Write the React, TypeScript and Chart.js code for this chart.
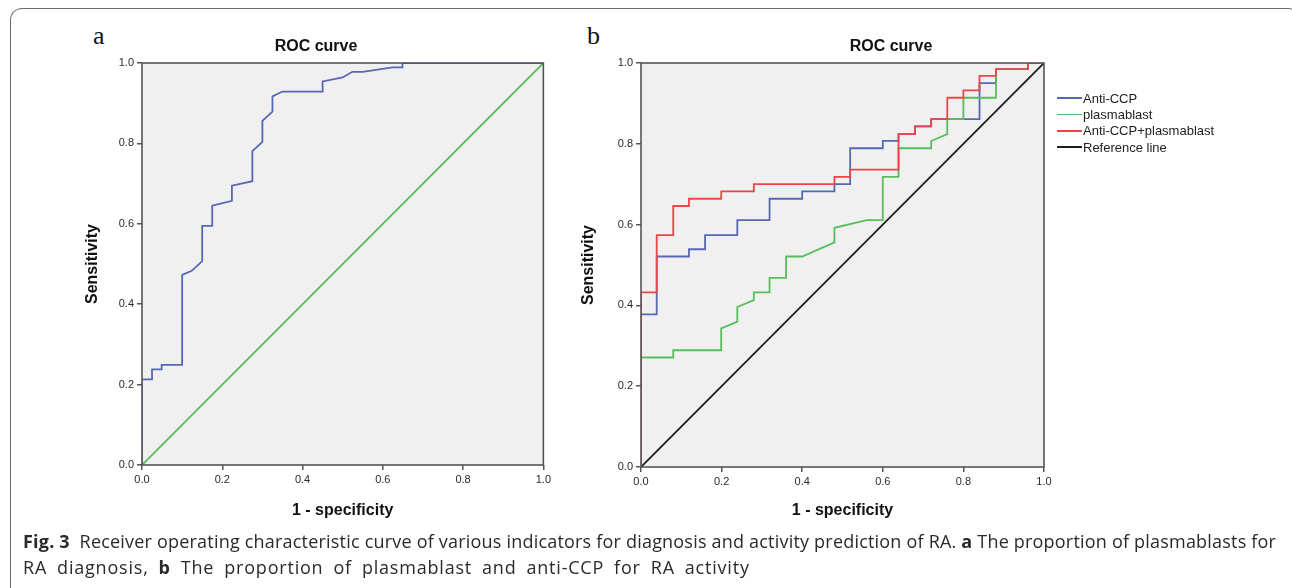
import React, { useEffect, useRef } from "react";
import { Chart, registerables } from "chart.js";
Chart.register(...registerables);

// ---------- data ----------
const TICK_STEP = 0.2;

// panel a: plasmablast ROC (1 - specificity, sensitivity)
const aFpr = [0, 0, 0.025, 0.025, 0.049, 0.049, 0.1, 0.1, 0.124, 0.15, 0.15, 0.175, 0.175, 0.224, 0.224, 0.275, 0.275, 0.3, 0.3, 0.325, 0.325, 0.35, 0.45, 0.45, 0.5, 0.524, 0.55, 0.624, 0.649, 0.649, 1];
const aTpr = [0, 0.213, 0.213, 0.238, 0.238, 0.249, 0.249, 0.473, 0.483, 0.507, 0.595, 0.595, 0.645, 0.657, 0.695, 0.706, 0.781, 0.804, 0.856, 0.879, 0.917, 0.929, 0.929, 0.954, 0.964, 0.978, 0.978, 0.989, 0.989, 1, 1];

// diagonal reference
const diagX = [0, 1];
const diagY = [0, 1];

// panel b: Anti-CCP
const ccpFpr = [0, 0, 0.039, 0.039, 0.119, 0.119, 0.159, 0.159, 0.239, 0.239, 0.319, 0.319, 0.4, 0.4, 0.48, 0.48, 0.519, 0.519, 0.6, 0.6, 0.639, 0.639, 0.68, 0.68, 0.72, 0.72, 0.84, 0.84, 0.881, 0.881, 0.96, 0.96, 1];
const ccpTpr = [0, 0.378, 0.378, 0.521, 0.521, 0.539, 0.539, 0.574, 0.574, 0.611, 0.611, 0.664, 0.664, 0.682, 0.682, 0.7, 0.7, 0.789, 0.789, 0.807, 0.807, 0.824, 0.824, 0.843, 0.843, 0.861, 0.861, 0.95, 0.95, 0.985, 0.985, 1, 1];

// panel b: plasmablast
const plasmaFpr = [0, 0, 0.08, 0.08, 0.199, 0.199, 0.239, 0.239, 0.28, 0.28, 0.319, 0.319, 0.36, 0.36, 0.4, 0.48, 0.48, 0.56, 0.6, 0.6, 0.639, 0.639, 0.72, 0.72, 0.76, 0.76, 0.8, 0.8, 0.881, 0.881, 0.96, 0.96, 1];
const plasmaTpr = [0, 0.271, 0.271, 0.289, 0.289, 0.343, 0.36, 0.396, 0.413, 0.432, 0.432, 0.468, 0.468, 0.521, 0.521, 0.556, 0.592, 0.611, 0.611, 0.718, 0.718, 0.789, 0.789, 0.807, 0.824, 0.861, 0.861, 0.914, 0.914, 0.985, 0.985, 1, 1];

// panel b: Anti-CCP + plasmablast
const combFpr = [0, 0, 0.039, 0.039, 0.08, 0.08, 0.119, 0.119, 0.199, 0.199, 0.28, 0.28, 0.48, 0.48, 0.519, 0.519, 0.639, 0.639, 0.68, 0.68, 0.72, 0.72, 0.76, 0.76, 0.8, 0.8, 0.84, 0.84, 0.881, 0.881, 0.96, 0.96, 1];
const combTpr = [0, 0.432, 0.432, 0.574, 0.574, 0.646, 0.646, 0.664, 0.664, 0.682, 0.682, 0.7, 0.7, 0.718, 0.718, 0.736, 0.736, 0.824, 0.824, 0.843, 0.843, 0.861, 0.861, 0.914, 0.914, 0.932, 0.932, 0.968, 0.968, 0.985, 0.985, 1, 1];

const legendLabels = ["Anti-CCP", "plasmablast", "Anti-CCP+plasmablast", "Reference line"];

// ---------- styles ----------
const BLUE = "#5767b4";
const GREEN = "#58bd5c";
const RED = "#ec4548";
const BLACK = "#1e1e1e";
const legendColors = [BLUE, GREEN, RED, BLACK];
const FONT = "'Liberation Sans', Arial, Helvetica, sans-serif";

const pts = (xs: number[], ys: number[]) => xs.map((x, i) => ({ x, y: ys[i] }));

const framePlugin = {
  id: "spssFrame",
  beforeDatasetsDraw(chart: any) {
    const { ctx, chartArea } = chart;
    const { left, top, right, bottom } = chartArea;
    ctx.save();
    ctx.fillStyle = "#f0f0f0";
    ctx.fillRect(left, top, right - left, bottom - top);
    ctx.restore();
  },
  afterDatasetsDraw(chart: any) {
    const { ctx, chartArea } = chart;
    const { left, top, right, bottom } = chartArea;
    ctx.save();
    ctx.strokeStyle = "#555";
    ctx.lineWidth = 1.6;
    ctx.strokeRect(left, top, right - left, bottom - top);
    ctx.restore();
  },
};

function makeOptions(cfg: { yWidth: number; yTitlePad: number; xHeight: number; rightWidth: number }) {
  const tickFont = { size: 11, family: FONT };
  const titleFont = { size: 16, weight: "bold" as const, family: FONT };
  return {
    responsive: false,
    animation: false as const,
    devicePixelRatio: 1,
    layout: { padding: 0 },
    plugins: {
      legend: { display: false },
      tooltip: { enabled: false },
      title: {
        display: true,
        text: "ROC curve",
        color: "#111",
        font: titleFont,
        padding: { top: 7.4, bottom: 6.4 },
      },
    },
    elements: { point: { radius: 0 }, line: { tension: 0 } },
    scales: {
      x: {
        type: "linear" as const,
        min: 0,
        max: 1,
        ticks: {
          stepSize: TICK_STEP,
          callback: (v: any) => Number(v).toFixed(1),
          font: tickFont,
          color: "#2a2a2a",
          padding: 3,
        },
        grid: { display: true, drawOnChartArea: false, drawTicks: true, tickLength: 5, color: "#555", lineWidth: 1.5 },
        border: { display: false },
        title: { display: true, text: "1 - specificity", color: "#111", font: titleFont, padding: { top: 0, bottom: 19.4 } },
        afterFit: (s: any) => {
          s.height = cfg.xHeight;
        },
      },
      y: {
        type: "linear" as const,
        min: 0,
        max: 1,
        ticks: {
          stepSize: TICK_STEP,
          callback: (v: any) => Number(v).toFixed(1),
          font: tickFont,
          color: "#2a2a2a",
          padding: 3,
        },
        grid: { display: true, drawOnChartArea: false, drawTicks: true, tickLength: 5, color: "#555", lineWidth: 1.5 },
        border: { display: false },
        title: { display: true, text: "Sensitivity", color: "#111", font: titleFont, padding: { top: cfg.yTitlePad, bottom: 0 } },
        afterFit: (s: any) => {
          s.width = cfg.yWidth;
        },
      },
      // spacer on the right (keeps room for the legend while the title stays centred on the whole canvas)
      yRight: {
        type: "linear" as const,
        position: "right" as const,
        display: true,
        min: 0,
        max: 1,
        ticks: { display: false },
        grid: { display: false, drawTicks: false },
        border: { display: false },
        afterFit: (s: any) => {
          s.width = cfg.rightWidth;
        },
      },
    },
  };
}

const lineDs = (label: string, data: any[], color: string, order: number) => ({
  label,
  data,
  borderColor: color,
  backgroundColor: color,
  borderWidth: 1.8,
  pointRadius: 0,
  fill: false,
  order,
});

export default function App() {
  const refA = useRef<HTMLCanvasElement | null>(null);
  const refB = useRef<HTMLCanvasElement | null>(null);

  useEffect(() => {
    const chartA = new Chart(refA.current as HTMLCanvasElement, {
      type: "line",
      data: {
        datasets: [
          lineDs("plasmablast", pts(aFpr, aTpr), BLUE, 1),
          lineDs("Reference line", pts(diagX, diagY), GREEN, 2),
        ],
      },
      options: makeOptions({ yWidth: 64, yTitlePad: 5.4, xHeight: 75, rightWidth: 9 }) as any,
      plugins: [framePlugin],
    });
    const chartB = new Chart(refB.current as HTMLCanvasElement, {
      type: "line",
      data: {
        datasets: [
          lineDs(legendLabels[0], pts(ccpFpr, ccpTpr), BLUE, 3),
          lineDs(legendLabels[1], pts(plasmaFpr, plasmaTpr), GREEN, 2),
          lineDs(legendLabels[2], pts(combFpr, combTpr), RED, 1),
          lineDs(legendLabels[3], pts(diagX, diagY), BLACK, 4),
        ],
      },
      options: makeOptions({ yWidth: 71, yTitlePad: 8.9, xHeight: 73, rightWidth: 168 }) as any,
      plugins: [framePlugin],
    });
    return () => {
      chartA.destroy();
      chartB.destroy();
    };
  }, []);

  return (
    <div style={{ position: "fixed", left: 0, top: 0, width: 1292, height: 588, background: "#fff", overflow: "hidden" }}>
      <div
        style={{
          position: "absolute",
          left: 10,
          top: 8,
          width: 1290,
          height: 600,
          borderTop: "1.5px solid #6a6a6a",
          borderLeft: "1.5px solid #6a6a6a",
          borderRight: "1.5px solid #6a6a6a",
          borderRadius: "12px 12px 0 12px",
          boxSizing: "border-box",
        }}
      />
      <div style={{ position: "absolute", left: 93, top: 23, fontFamily: "'Liberation Serif', 'Times New Roman', serif", fontSize: 26, lineHeight: "26px", color: "#111" }}>a</div>
      <div style={{ position: "absolute", left: 587, top: 23, fontFamily: "'Liberation Serif', 'Times New Roman', serif", fontSize: 26, lineHeight: "26px", color: "#111" }}>b</div>
      <canvas ref={refA} width={476} height={510} style={{ position: "absolute", left: 78, top: 30, width: 476, height: 510 }} />
      <canvas ref={refB} width={642} height={510} style={{ position: "absolute", left: 570, top: 30, width: 642, height: 510 }} />
      <div style={{ position: "absolute", left: 1057, top: 90, fontFamily: FONT, fontSize: 13, color: "#222" }}>
        {legendLabels.map((l, i) => (
          <div key={l} style={{ display: "flex", alignItems: "center", height: 16.4 }}>
            <span style={{ display: "inline-block", width: 25, height: 1.8, background: legendColors[i], marginRight: 1 }} />
            <span>{l}</span>
          </div>
        ))}
      </div>
      <div
        style={{
          position: "absolute",
          left: 23,
          top: 528,
          fontFamily: "'Open Sans', 'Noto Sans', sans-serif",
          fontSize: 18,
          lineHeight: "26px",
          color: "#2a2a2a",
          whiteSpace: "nowrap",
        }}
      >
        <div style={{ letterSpacing: "0.2px" }}>
          <b>Fig. 3</b>&nbsp; Receiver operating characteristic curve of various indicators for diagnosis and activity prediction of RA. <b>a</b> The proportion of plasmablasts for
        </div>
        <div style={{ letterSpacing: "0.8px", wordSpacing: "4.5px" }}>
          RA diagnosis, <b>b</b> The proportion of plasmablast and anti-CCP for RA activity
        </div>
      </div>
    </div>
  );
}
